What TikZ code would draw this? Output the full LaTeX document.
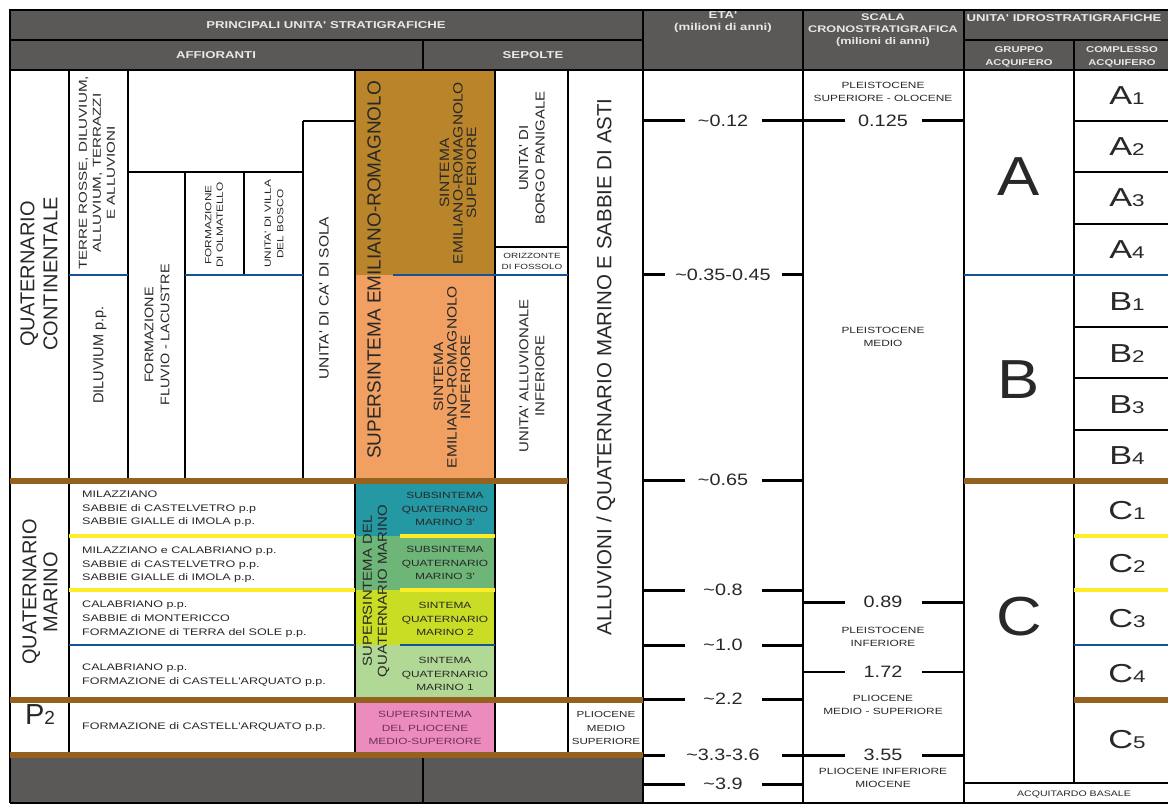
\documentclass[tikz,border=0pt]{standalone}
\usepackage{fontspec}
\setmainfont{Liberation Sans}
\newfontfamily\fW[FakeStretch=1.32]{Liberation Sans}
\newfontfamily\fM[FakeStretch=1.15]{Liberation Sans}
\newfontfamily\fN[FakeStretch=1.2]{Liberation Sans}
\newcommand\fz[2]{\fontsize{#1}{#2}\selectfont}
\definecolor{hdr}{RGB}{91,89,87}
\definecolor{hdtx}{RGB}{232,232,232}
\definecolor{txt}{RGB}{40,40,40}
\definecolor{brn}{RGB}{148,98,30}
\definecolor{gold}{RGB}{186,132,42}
\definecolor{orng}{RGB}{241,160,98}
\definecolor{tealc}{RGB}{36,152,163}
\definecolor{grn}{RGB}{110,182,120}
\definecolor{ygrn}{RGB}{200,221,35}
\definecolor{lgrn}{RGB}{178,216,150}
\definecolor{pinkc}{RGB}{236,140,190}
\definecolor{pinktx}{RGB}{110,50,80}
\definecolor{yel}{RGB}{255,236,40}
\definecolor{blu}{RGB}{22,82,150}
\begin{document}
\begin{tikzpicture}[x=1pt,y=-1pt,
  t/.style={text=txt, align=center, inner sep=0pt},
  hd/.style={text=hdtx, align=center, inner sep=0pt, font={\fW\bfseries\fz{10}{12}}},
  hds/.style={hd, font={\fW\bfseries\fz{8.5}{12.5}}},
  sm/.style={t, font={\fW\fz{9}{13.5}}},
  md/.style={t, font={\fM\fz{13.5}{16}}},
  lg/.style={t, font={\fz{20}{23}}},
  hl/.style={line width=2pt, black},
  vl/.style={line width=1.3pt, black},
  cl/.style={line width=1.7pt, black},
  bl/.style={line width=2.6pt, blu},
  yl/.style={line width=3.6pt, yel},
  bb/.style={line width=6.5pt, brn},
  tk/.style={line width=3pt, black},
  tklab/.style={fill=white, inner xsep=0pt, inner ysep=1pt, text=txt, font={\fN\fz{16.5}{18}}}
]
\useasboundingbox (0,0) rectangle (1168,805);
\fill[white] (0,0) rectangle (1168,805);
% fills
\fill[hdr] (10,10) rectangle (1190,70);
\fill[gold] (355,70) rectangle (495,275);
\fill[orng] (355,275) rectangle (495,481);
\fill[tealc] (355,481) rectangle (495,536);
\fill[grn] (355,536) rectangle (495,590);
\fill[ygrn] (355,590) rectangle (495,645);
\fill[lgrn] (355,645) rectangle (495,700);
\fill[pinkc] (355,700) rectangle (495,755);
\fill[hdr] (10,755) rectangle (643,803);
% header lines
\draw[hl] (10,10) rectangle (1190,70);
\draw[hl] (10,40) -- (643,40);
\draw[hl] (964,40) -- (1190,40);
\draw[hl] (423,40) -- (423,70);
\draw[hl] (643,10) -- (643,70);
\draw[hl] (803,10) -- (803,70);
\draw[hl] (964,10) -- (964,70);
\draw[hl] (1074,40) -- (1074,70);
% body lines
\draw[vl] (10,70) -- (10,803);
\draw[vl] (69,70) -- (69,755);
\draw[vl] (128,70) -- (128,481);
\draw[vl] (185,172) -- (185,481);
\draw[vl] (244,172) -- (244,275);
\draw[vl] (303,121) -- (303,481);
\draw[vl] (355,70) -- (355,755);
\draw[vl] (495,70) -- (495,755);
\draw[vl] (568,70) -- (568,755);
\draw[vl] (423,755) -- (423,803);
\draw[cl] (643,70) -- (643,803);
\draw[cl] (803,70) -- (803,803);
\draw[cl] (964,70) -- (964,803);
\draw[vl] (1074,70) -- (1074,783);
\draw[vl] (303,121) -- (355,121);
\draw[vl] (128,172) -- (303,172);
\draw[vl] (495,247) -- (568,247);
\foreach \yy in {121,172,224,327,378,430} \draw[vl] (1074,\yy) -- (1190,\yy);
\draw[vl] (964,783) -- (1190,783);
\draw[vl] (10,803) -- (1190,803);
% blue lines
\draw[bl] (69,275) -- (128,275);
\draw[bl] (185,275) -- (303,275);
\draw[bl] (393,275) -- (568,275);
\draw[bl] (964,275) -- (1190,275);
\draw[bl] (69,645) -- (355,645);
\draw[bl] (400,645) -- (495,645);
\draw[bl] (1074,645) -- (1190,645);
% yellow lines
\foreach \yy in {536,590} {
  \draw[yl] (69,\yy) -- (355,\yy);
  \draw[yl] (400,\yy) -- (495,\yy);
  \draw[yl] (1074,\yy) -- (1190,\yy);
}
% brown bands
\draw[bb] (10,481) -- (568,481);
\draw[bb] (964,481) -- (1190,481);
\draw[bb] (10,700) -- (643,700);
\draw[bb] (1074,700) -- (1190,700);
\draw[bb] (10,755) -- (643,755);
% ETA ticks
\foreach \yy/\lab/\w [count=\i] in {121/0.12/77, 275/0.35-0.45/117, 480/0.65/77, 590/0.8/77, 645/1.0/77, 699/2.2/77, 755/3.3-3.6/117, 784/3.9/77} {
  \draw[tk] (643,\yy) -- (803,\yy);
  \node[tklab, minimum width=\w pt] (eta\i) at (723,\yy) {\textasciitilde\lab};
}
% SCALA ticks
\foreach \yy/\lab/\lw [count=\i] in {121/0.125/3, 602/0.89/3, 672/1.72/2, 755/3.55/3} {
  \draw[line width=\lw pt] (803,\yy) -- (964,\yy);
  \node[tklab, minimum width=77pt] (sc\i) at (883,\yy) {\lab};
}
% header text
\node[hd] (h1) at (326,25) {PRINCIPALI UNITA' STRATIGRAFICHE};
\node[hd] (h2) at (216,55) {AFFIORANTI};
\node[hd] (h3) at (533,55) {SEPOLTE};
\node[hd] (h4) at (723,22) {ETA'\\(milioni di anni)};
\node[hd, font={\fW\bfseries\fz{9.6}{12}}] (h5) at (883,30) {SCALA\\CRONOSTRATIGRAFICA\\(milioni di anni)};
\node[hd] (h6) at (1064,18) {UNITA' IDROSTRATIGRAFICHE};
\node[hds] (h7) at (1019,57) {GRUPPO\\ACQUIFERO};
\node[hds] (h8) at (1122,57) {COMPLESSO\\ACQUIFERO};
% continental part
\node[lg, rotate=90] (qc) at (39,274) {QUATERNARIO\\CONTINENTALE};
\node[t, font={\fW\fz{11.5}{14}}, rotate=90] (terre) at (97,173) {TERRE ROSSE, DILUVIUM,\\ALLUVIUM, TERRAZZI\\E ALLUVIONI};
\node[t, font={\fz{14.5}{16}}, rotate=90] (dil) at (100,355) {DILUVIUM p.p.};
\node[t, font={\fM\fz{12.5}{16}}, rotate=90] (ffl) at (157,335) {FORMAZIONE\\FLUVIO - LACUSTRE};
\node[t, font={\fW\fz{9}{11.5}}, rotate=90] (olm) at (214,225) {FORMAZIONE\\DI OLMATELLO};
\node[t, font={\fW\fz{9}{12.5}}, rotate=90] (vil) at (274,224) {UNITA' DI VILLA\\DEL BOSCO};
\node[md, rotate=90] (sola) at (324,298) {UNITA' DI CA' DI SOLA};
\node[t, font={\fz{19}{22}}, rotate=90] (ser) at (374,270) {SUPERSINTEMA EMILIANO-ROMAGNOLO};
\node[t, font={\fM\fz{13.5}{13.5}}, rotate=90] (sup) at (458,173) {SINTEMA\\EMILIANO-ROMAGNOLO\\SUPERIORE};
\node[t, font={\fM\fz{13.5}{13.5}}, rotate=90] (inf) at (452,377) {SINTEMA\\EMILIANO-ROMAGNOLO\\INFERIORE};
\node[t, font={\fM\fz{13}{16.5}}, rotate=90] (borgo) at (532,158) {UNITA' DI\\BORGO PANIGALE};
\node[t, font={\fW\fz{7.5}{11}}] (orizz) at (532,261) {ORIZZONTE\\DI FOSSOLO};
\node[t, font={\fM\fz{13}{16}}, rotate=90] (allinf) at (532,376) {UNITA' ALLUVIONALE\\INFERIORE};
\node[t, font={\fz{20.5}{22}}, rotate=90] (allu) at (606,367) {ALLUVIONI / QUATERNARIO MARINO E SABBIE DI ASTI};
% marine part
\node[t, font={\fz{20}{21}}, rotate=90] (qm) at (40,592) {QUATERNARIO\\MARINO};
\node[t, font={\fz{29}{29}}] (p2) at (40,715) {P{\fz{19}{19}2}};
\node[t, align=left, anchor=west, font={\fW\fz{9.5}{13.5}}] (r1) at (82,509) {MILAZZIANO\\SABBIE di CASTELVETRO p.p\\SABBIE GIALLE di IMOLA p.p.};
\node[t, align=left, anchor=west, font={\fW\fz{9.5}{13.5}}] (r2) at (82,565) {MILAZZIANO e CALABRIANO p.p.\\SABBIE di CASTELVETRO p.p.\\SABBIE GIALLE di IMOLA p.p.};
\node[t, align=left, anchor=west, font={\fW\fz{9.5}{14}}] (r3) at (82,619) {CALABRIANO p.p.\\SABBIE di MONTERICCO\\FORMAZIONE di TERRA del SOLE p.p.};
\node[t, align=left, anchor=west, font={\fW\fz{9.5}{14}}] (r4) at (82,675) {CALABRIANO p.p.\\FORMAZIONE di CASTELL'ARQUATO p.p.};
\node[t, align=left, anchor=west, font={\fW\fz{9.5}{14}}] (r5) at (82,727) {FORMAZIONE di CASTELL'ARQUATO p.p.};
\node[sm] (s3a) at (445,509) {SUBSINTEMA\\QUATERNARIO\\MARINO 3'};
\node[sm] (s3b) at (445,563) {SUBSINTEMA\\QUATERNARIO\\MARINO 3'};
\node[sm] (s2) at (445,619) {SINTEMA\\QUATERNARIO\\MARINO 2};
\node[sm] (s1) at (445,674) {SINTEMA\\QUATERNARIO\\MARINO 1};
\node[t, font={\fM\fz{13}{15}}, rotate=90] (sqm) at (376,591) {SUPERSINTEMA DEL\\QUATERNARIO MARINO};
\node[sm, text=pinktx] (plio) at (425,728) {SUPERSINTEMA\\DEL PLIOCENE\\MEDIO-SUPERIORE};
\node[sm, font={\fW\fz{8.8}{13.5}}] (plms) at (606,728) {PLIOCENE\\MEDIO\\SUPERIORE};
% scala text
\node[sm, font={\fW\fz{9}{13}}] (sct1) at (883,92) {PLEISTOCENE\\SUPERIORE - OLOCENE};
\node[sm, font={\fW\fz{9}{13}}] (sct2) at (883,337) {PLEISTOCENE\\MEDIO};
\node[sm, font={\fW\fz{9}{13}}] (sct3) at (883,637) {PLEISTOCENE\\INFERIORE};
\node[sm, font={\fW\fz{9}{13}}] (sct4) at (883,705) {PLIOCENE\\MEDIO - SUPERIORE};
\node[sm, font={\fW\fz{9}{13}}] (sct5) at (883,778) {PLIOCENE INFERIORE\\MIOCENE};
% idrostratigrafia
\node[t, font={\fM\fz{55}{55}}] (ga) at (1019,177) {A};
\node[t, font={\fM\fz{55}{55}}] (gb) at (1019,380) {B};
\node[t, font={\fM\fz{55}{55}}] (gc) at (1019,617) {C};
\foreach \l/\n/\yy in {A/1/105, A/2/156, A/3/207, A/4/259, B/1/310, B/2/362, B/3/413, B/4/464, C/1/519, C/2/572, C/3/627, C/4/682, C/5/748} {
  \node[t, anchor=base, font={\fW\fz{26}{26}}] (cx\l\n) at (1127,\yy) {\l{\fz{17}{17}\n}};
}
\node[t, font={\fW\fz{8}{10}}] (acq) at (1074,794) {ACQUITARDO BASALE};
\end{tikzpicture}
\end{document}
